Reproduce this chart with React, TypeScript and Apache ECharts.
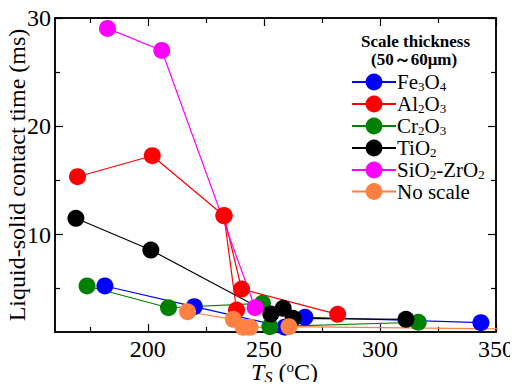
import React, { useEffect, useRef } from "react";
import * as echarts from "echarts";

const FONT = "Liberation Serif";

const seriesNames = ["Fe3O4", "Al2O3", "Cr2O3", "TiO2", "SiO2-ZrO2", "No scale"];
const seriesRich = [
  "Fe{s|3}O{s|4}",
  "Al{s|2}O{s|3}",
  "Cr{s|2}O{s|3}",
  "TiO{s|2}",
  "SiO{s|2}-ZrO{s|2}",
  "No scale",
];
const seriesColors = ["#0000FF", "#FF0000", "#008000", "#000000", "#FF00FF", "#FF8040"];

const fe3o4X = [181.5, 220.0, 259.0, 267.7, 343.5];
const fe3o4Y = [5.25, 3.34, 1.45, 2.36, 1.86];
const al2o3X = [169.7, 201.9, 232.8, 238.2, 232.8, 240.4, 281.8];
const al2o3Y = [15.34, 17.28, 11.74, 3.03, 11.74, 4.97, 2.63];
const cr2o3X = [173.8, 208.9, 249.4, 252.6, 316.5];
const cr2o3Y = [5.25, 3.24, 3.65, 1.49, 1.9];
const tio2X = [169.0, 201.3, 253.0, 258.3, 262.6, 311.2];
const tio2Y = [11.5, 8.57, 2.66, 3.19, 2.26, 2.17];
const sio2X = [182.6, 206.0, 246.2];
const sio2Y = [29.04, 27.0, 3.24];
const noScaleX = [217.1, 236.8, 241.1, 244.0, 260.8, 365];
const noScaleY = [2.87, 2.17, 1.43, 1.43, 1.49, 1.25];

const allX = [fe3o4X, al2o3X, cr2o3X, tio2X, sio2X, noScaleX];
const allY = [fe3o4Y, al2o3Y, cr2o3Y, tio2Y, sio2Y, noScaleY];

const xMin = 160;
const xMax = 350;
const yMin = 1;
const yMax = 30;
const xMajor = [200, 250, 300, 350];
const xMinor = [175, 225, 275, 325];
const yMajor = [10, 20, 30];
const yMinor = [5, 15, 25];

export default function App() {
  const ref = useRef<HTMLDivElement>(null);
  useEffect(() => {
    if (!ref.current) return;
    const chart = echarts.init(ref.current, null, { renderer: "svg" });
    const axisLine = { show: true, lineStyle: { color: "#000", width: 1.5 } };
    const labelStyle = { fontFamily: FONT, fontSize: 24, color: "#000" };
    const mkX = (pos: string, ticks: number[], len: number, labels: boolean, extra: any = {}) => ({
      type: "value",
      position: pos,
      min: xMin,
      max: xMax,
      interval: 10,
      axisLine,
      splitLine: { show: false },
      axisTick: { show: true, inside: true, length: len, customValues: ticks, lineStyle: { color: "#000", width: 1.2 } },
      axisLabel: labels
        ? {
            show: true,
            ...labelStyle,
            margin: 5,
            showMinLabel: true,
            showMaxLabel: true,
            formatter: (v: number) => (xMajor.indexOf(Math.round(v)) >= 0 ? String(Math.round(v)) : ""),
          }
        : { show: false },
      ...extra,
    });
    const mkY = (pos: string, ticks: number[], len: number, labels: boolean, extra: any = {}) => ({
      type: "value",
      position: pos,
      min: yMin,
      max: yMax,
      interval: 1,
      axisLine,
      splitLine: { show: false },
      axisTick: { show: true, inside: true, length: len, customValues: ticks, lineStyle: { color: "#000", width: 1.2 } },
      axisLabel: labels
        ? {
            show: true,
            ...labelStyle,
            margin: 4,
            showMinLabel: true,
            showMaxLabel: true,
            formatter: (v: number) => (yMajor.indexOf(Math.round(v)) >= 0 ? String(Math.round(v)) : ""),
          }
        : { show: false },
      ...extra,
    });
    const option: any = {
      animation: false,
      textStyle: { fontFamily: FONT, color: "#000" },
      grid: { left: 55, right: 22, top: 18, bottom: 58, containLabel: false, outerBoundsMode: "none" },
      xAxis: [
        mkX("bottom", xMajor, 8, true, {
          name: "{i|T}{is|S} ({sup|o}C)",
          nameLocation: "middle",
          nameGap: 28,
          nameMoveOverlap: false,
          nameTextStyle: {
            fontFamily: FONT,
            fontSize: 24,
            color: "#000",
            padding: [0, 0, 0, 18],
            rich: {
              i: { fontFamily: FONT, fontSize: 24, fontStyle: "italic", color: "#000" },
              is: { fontFamily: FONT, fontSize: 16, lineHeight: 16, fontStyle: "italic", color: "#000", padding: [10, 0, 0, 0] },
              sup: { fontFamily: FONT, fontSize: 15, lineHeight: 15, color: "#000", padding: [0, 0, 10, 0] },
            },
          },
        }),
        mkX("bottom", xMinor, 5, false),
        mkX("top", xMajor, 8, false),
        mkX("top", xMinor, 5, false),
      ],
      yAxis: [
        mkY("left", yMajor, 8, true, {
          name: "Liquid-solid contact time (ms)",
          nameLocation: "middle",
          nameGap: 26,
          nameMoveOverlap: false,
          nameTextStyle: { fontFamily: FONT, fontSize: 24, color: "#000" },
        }),
        mkY("left", yMinor, 5, false),
        mkY("right", yMajor, 8, false),
        mkY("right", yMinor, 5, false),
      ],
      legend: {
        orient: "vertical",
        left: 351,
        top: 71,
        padding: 0,
        itemWidth: 44,
        itemHeight: 21,
        itemGap: 0,
        data: seriesNames,
        formatter: (name: string) => seriesRich[seriesNames.indexOf(name)],
        textStyle: {
          fontFamily: FONT,
          fontSize: 21,
          lineHeight: 20,
          color: "#000",
          padding: [0, 0, 0, -4],
          rich: {
            s: { fontFamily: FONT, fontSize: 13, lineHeight: 13, color: "#000", padding: [9, 0, 0, 0] },
          },
        },
      },
      graphic: [
        {
          type: "text",
          left: 361,
          top: 33,
          style: { text: "Scale thickness", font: `bold 17px '${FONT}'`, fill: "#000" },
        },
        {
          type: "text",
          left: 371,
          top: 51,
          style: { text: "(50～60μm)", font: `bold 17px '${FONT}'`, fill: "#000" },
        },
      ],
      series: seriesNames.map((name, i) => ({
        name,
        type: "line",
        xAxisIndex: 0,
        yAxisIndex: 0,
        data: allX[i].map((x, j) => [x, allY[i][j]]),
        symbol: "circle",
        symbolSize: 17,
        showSymbol: true,
        clip: true,
        color: seriesColors[i],
        itemStyle: { color: seriesColors[i] },
        lineStyle: { color: seriesColors[i], width: 1.2 },
      })),
    };
    chart.setOption(option);
    return () => chart.dispose();
  }, []);
  return <div ref={ref} style={{ width: 518, height: 390, margin: -8 }} />;
}
